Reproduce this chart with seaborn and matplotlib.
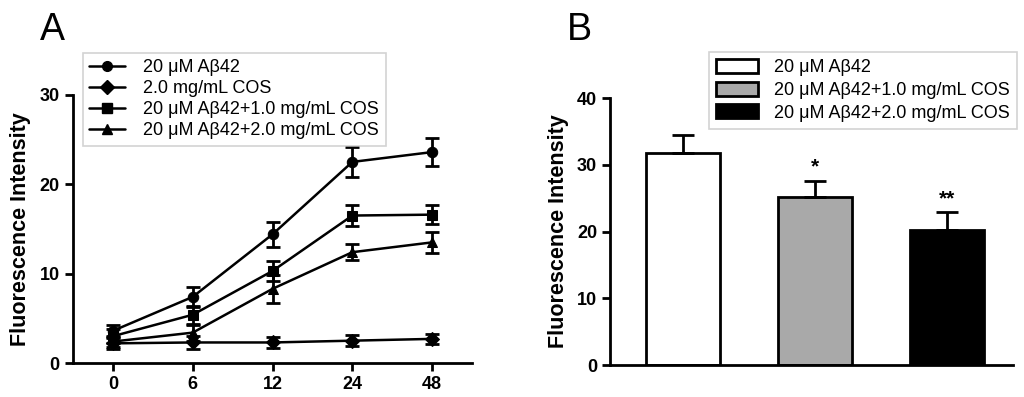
import numpy as np
import pandas as pd
import matplotlib
matplotlib.use("Agg")
import matplotlib.pyplot as plt
import seaborn as sns
from matplotlib.lines import Line2D
from matplotlib.patches import Patch

sns.set_theme(style="ticks")
plt.rcParams['font.family'] = ['Liberation Sans', 'DejaVu Sans']
plt.rcParams.update({"text.color": "black", "axes.labelcolor": "black",
                     "xtick.color": "black", "ytick.color": "black"})

# ---- Panel A data ----
time_labels = ["0", "6", "12", "24", "48"]
series_names = ["20 μM Aβ42", "2.0 mg/mL COS",
                "20 μM Aβ42+1.0 mg/mL COS", "20 μM Aβ42+2.0 mg/mL COS"]
abeta_mean = [3.6, 7.4, 14.4, 22.5, 23.6]
abeta_err = [0.7, 1.1, 1.4, 1.7, 1.6]
cos_mean = [2.2, 2.3, 2.3, 2.5, 2.7]
cos_err = [0.6, 0.7, 0.6, 0.6, 0.6]
cos1_mean = [3.0, 5.4, 10.3, 16.5, 16.6]
cos1_err = [0.8, 1.0, 1.1, 1.2, 1.1]
cos2_mean = [2.4, 3.4, 8.3, 12.4, 13.5]
cos2_err = [0.6, 0.9, 1.6, 0.9, 1.2]
markers_a = ["o", "D", "s", "^"]

# ---- Panel B data ----
bar_labels = ["20 μM Aβ42", "20 μM Aβ42+1.0 mg/mL COS", "20 μM Aβ42+2.0 mg/mL COS"]
bar_mean = [31.8, 25.2, 20.2]
bar_err = [2.7, 2.4, 2.7]
bar_sig = ["", "*", "**"]
bar_colors = ["white", "#a9a9a9", "black"]

fig = plt.figure(figsize=(10.24, 3.97), dpi=100)
axA = fig.add_axes([0.0713, 0.0856, 0.3897, 0.6754])
axB = fig.add_axes([0.596, 0.0806, 0.393, 0.6725])

means = [abeta_mean, cos_mean, cos1_mean, cos2_mean]
errs = [abeta_err, cos_err, cos1_err, cos2_err]
rows = []
for name, m in zip(series_names, means):
    for t, v in zip(time_labels, m):
        rows.append({"time": t, "value": v, "series": name})
dfA = pd.DataFrame(rows)

sns.lineplot(data=dfA, x="time", y="value", hue="series", style="series",
             hue_order=series_names, style_order=series_names,
             palette=["black"] * 4, markers=dict(zip(series_names, markers_a)),
             dashes=False, linewidth=1.8, markersize=7.5, markeredgecolor="black",
             ax=axA, legend=False, sort=False)
for m, e in zip(means, errs):
    axA.errorbar(time_labels, m, yerr=e, fmt="none", ecolor="black",
                 elinewidth=2, capsize=5, capthick=2)

axA.set_xlim(-0.5, 4.5)
axA.set_ylim(0, 30)
axA.set_yticks([0, 10, 20, 30])
axA.set_xlabel("")
axA.set_ylabel("Fluorescence Intensity", fontsize=15.5, fontweight="bold", labelpad=6)
handlesA = [Line2D([0], [0], color="black", lw=1.8, marker=mk, markersize=7)
            for mk in markers_a]
legA = axA.legend(handlesA, series_names, loc="upper left",
                  bbox_to_anchor=(83 / 1024, 1 - 53 / 397), bbox_transform=fig.transFigure,
                  fontsize=13, frameon=True, fancybox=False, edgecolor="#c8c8c8",
                  handlelength=2.0, labelspacing=0.22, borderpad=0.35, handletextpad=1.0,
                  borderaxespad=0)
legA.get_frame().set_linewidth(1.2)

# Panel B
dfB = pd.DataFrame({"group": bar_labels, "value": bar_mean})
sns.barplot(data=dfB, x="group", y="value", hue="group", order=bar_labels,
            hue_order=bar_labels, palette=bar_colors, edgecolor="black",
            linewidth=2, width=0.56, ax=axB, legend=False, errorbar=None)
axB.errorbar(bar_labels, bar_mean, yerr=[[0, 0, 0], bar_err], fmt="none",
             ecolor="black", elinewidth=2, capsize=8, capthick=2)
for lab, m, e, s in zip(bar_labels, bar_mean, bar_err, bar_sig):
    if s:
        axB.text(lab, m + e + 0.6, s, ha="center", va="bottom",
                 fontsize=15, fontweight="bold")
axB.set_xlim(-0.55, 2.5)
axB.set_ylim(0, 40)
axB.set_yticks([0, 10, 20, 30, 40])
axB.set_xticks([])
axB.set_xlabel("")
axB.set_ylabel("Fluorescence Intensity", fontsize=15.5, fontweight="bold", labelpad=6)
handlesB = [Patch(facecolor=c, edgecolor="black", linewidth=2) for c in bar_colors]
legB = axB.legend(handlesB, bar_labels, loc="upper left",
                  bbox_to_anchor=(709 / 1024, 1 - 52 / 397), bbox_transform=fig.transFigure,
                  fontsize=13, frameon=True, fancybox=False, edgecolor="#c8c8c8",
                  handlelength=2.3, handleheight=0.8, labelspacing=0.3, borderpad=0.4,
                  handletextpad=0.9, borderaxespad=0)
legB.get_frame().set_linewidth(1.2)

for ax in (axA, axB):
    sns.despine(ax=ax)
    for sp in ("left", "bottom"):
        ax.spines[sp].set_linewidth(2)
        ax.spines[sp].set_color("black")
    ax.tick_params(axis="both", width=2, length=6, color="black", labelsize=13,
                   direction="out", labelcolor="black")
    for lab in ax.get_xticklabels() + ax.get_yticklabels():
        lab.set_fontweight("bold")

fig.text(40 / 1024, 1 - 40 / 397, "A", fontsize=27, color="black")
fig.text(567 / 1024, 1 - 40 / 397, "B", fontsize=27, color="black")

fig.savefig("out.png", dpi=100, facecolor="white")
